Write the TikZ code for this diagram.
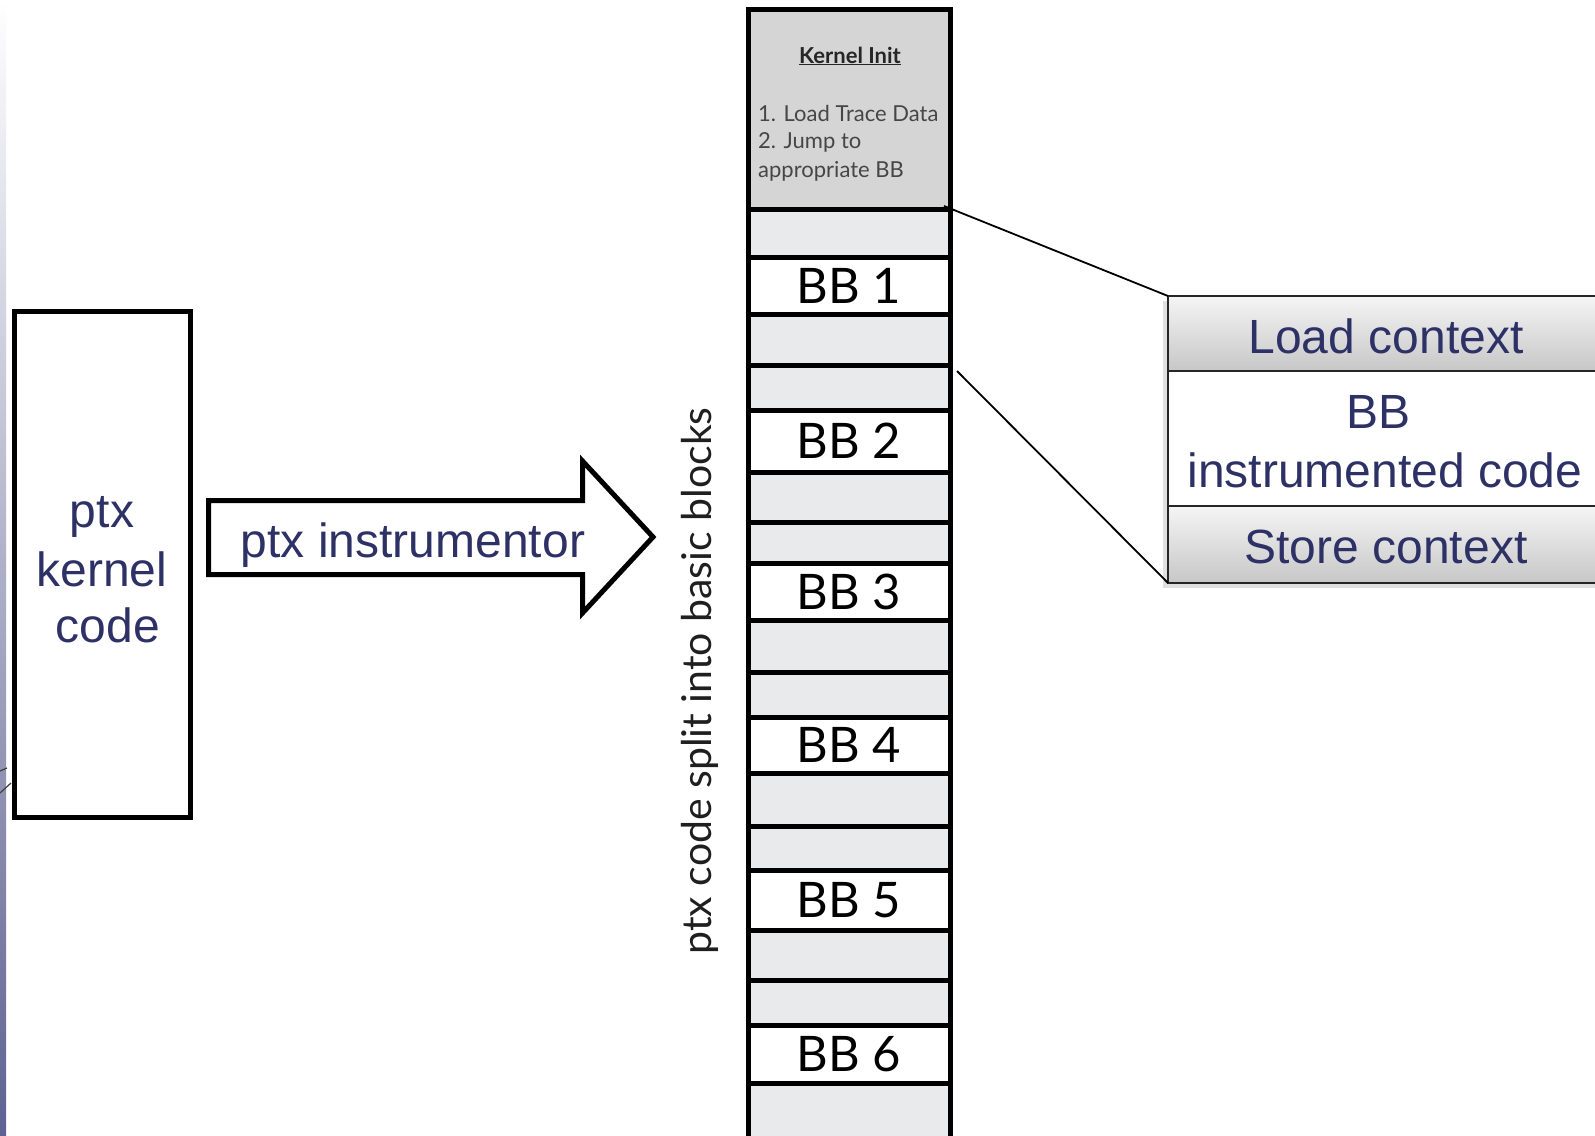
\documentclass[tikz,border=0pt]{standalone}
\usepackage{fontspec}
\setmainfont{Liberation Sans}
\newfontfamily\gill{Lato}
\definecolor{navy}{RGB}{46,49,102}
\definecolor{cellgray}{RGB}{233,234,236}
\definecolor{initgray}{RGB}{213,213,213}
\definecolor{inittext}{RGB}{70,70,70}
\begin{document}
\begin{tikzpicture}[x=1pt,y=-1pt,
  cellbox/.style={draw=black, line width=5pt, minimum width=202pt, inner sep=0pt, outer sep=0pt, anchor=north},
  graycell/.style={cellbox, fill=cellgray},
  bbcell/.style={cellbox, fill=white, font=\gill\fontsize{49}{56}\selectfont},
  panel/.style={draw=black!85, line width=2pt, minimum width=472pt, inner sep=0pt, outer sep=0pt},
  gradpanel/.style={panel, top color=black!4, bottom color=black!22},
  navytext/.style={text=navy, font=\fontsize{48}{56}\selectfont, inner sep=0pt},
  inittxt/.style={text=inittext, font=\gill\fontsize{22}{26}\selectfont, inner sep=0pt},
  link/.style={draw=black, line width=1.8pt}
]
\clip (0,0) rectangle (1595,1135);
\fill[white] (0,0) rectangle (1595,1135);
% left stripe
\shade[top color=white, middle color={rgb,255:red,185;green,185;blue,208}, bottom color={rgb,255:red,95;green,97;blue,145}] (0,0) rectangle (6,1135);
\draw[black!75, line width=1.2pt] (0,771) -- (7,768);
\draw[black!75, line width=1.2pt] (0,793) -- (11,783);

% ptx kernel code box
\node[draw=black, line width=5pt, minimum width=176pt, minimum height=506pt, inner sep=0pt] (ptx) at (102.5,564.5) {};
\node[navytext, anchor=base] (t1) at (102,527) {ptx};
\node[navytext, anchor=base] (t2) at (102,586) {kernel};
\node[navytext, anchor=base] (t3) at (108,642) {code};

% block arrow
\coordinate (a1) at (208.5,500.5);
\coordinate (a2) at (582.5,500.5);
\coordinate (a3) at (582.5,461);
\coordinate (a4) at (653,537);
\coordinate (a5) at (582.5,613);
\coordinate (a6) at (582.5,574.5);
\coordinate (a7) at (208.5,574.5);
\draw[line width=5pt, fill=white] (a1) -- (a2) -- (a3) -- (a4) -- (a5) -- (a6) -- (a7) -- cycle;
\node[navytext, anchor=base] (instr) at (413,557) {ptx instrumentor};

% vertical label
\node[rotate=90, text=black!88, font=\gill\fontsize{41}{46}\selectfont, inner sep=0pt] (split) at (700,681) {ptx code split into basic blocks};

% column
\node[cellbox, fill=initgray, minimum height=200pt] (kinit) at (849,9) {};
\node[text=black!85, font=\gill\bfseries\fontsize{22}{26}\selectfont, inner sep=0pt, anchor=base] (ktitle) at (850,63) {\underline{Kernel Init}};
\node[inittxt, anchor=base west] (k1) at (758,121) {1. Load Trace Data};
\node[inittxt, anchor=base west] (k2) at (758,148) {2. Jump to};
\node[inittxt, anchor=base west] (k3) at (758,177) {appropriate BB};

\node[graycell, minimum height=48pt] (g1) at (849,209) {};
\node[bbcell, minimum height=57pt] (bb1) at (849,257) {BB 1};
\node[graycell, minimum height=51pt] (g2) at (849,314) {};
\node[graycell, minimum height=45pt] (g3) at (849,365) {};
\node[bbcell, minimum height=62pt] (bb2) at (849,410) {BB 2};
\node[graycell, minimum height=50pt] (g4) at (849,472) {};
\node[graycell, minimum height=41pt] (g5) at (849,522) {};
\node[bbcell, minimum height=57pt] (bb3) at (849,563) {BB 3};
\node[graycell, minimum height=52pt] (g6) at (849,620) {};
\node[graycell, minimum height=45pt] (g7) at (849,672) {};
\node[bbcell, minimum height=56pt] (bb4) at (849,717) {BB 4};
\node[graycell, minimum height=53pt] (g8) at (849,773) {};
\node[graycell, minimum height=44pt] (g9) at (849,826) {};
\node[bbcell, minimum height=60pt] (bb5) at (849,870) {BB 5};
\node[graycell, minimum height=50pt] (g10) at (849,930) {};
\node[graycell, minimum height=45pt] (g11) at (849,980) {};
\node[bbcell, minimum height=58pt] (bb6) at (849,1025) {BB 6};
\node[graycell, minimum height=62pt] (g12) at (849,1083) {};

% right panel
\fill[black!12] (1163,301) rectangle (1600,588);
\node[gradpanel, minimum height=75pt] (load) at (1404,333.5) {};
\node[panel, fill=white, minimum height=135pt] (mid) at (1404,438.5) {};
\node[gradpanel, minimum height=77pt] (store) at (1404,544.5) {};
\node[navytext, anchor=base] (lt) at (1386,353) {Load context};
\node[navytext, anchor=base] (mt1) at (1378,428) {BB};
\node[navytext, anchor=base] (mt2) at (1385,487) {instrumented code};
\node[navytext, anchor=base] (st) at (1386,563) {Store context};

% connectors
\draw[link] ([shift={(-6,-3)}]kinit.south east) -- (load.north west);
\draw[link] ([shift={(7,6)}]g3.north east) -- (store.south west);
\end{tikzpicture}
\end{document}
